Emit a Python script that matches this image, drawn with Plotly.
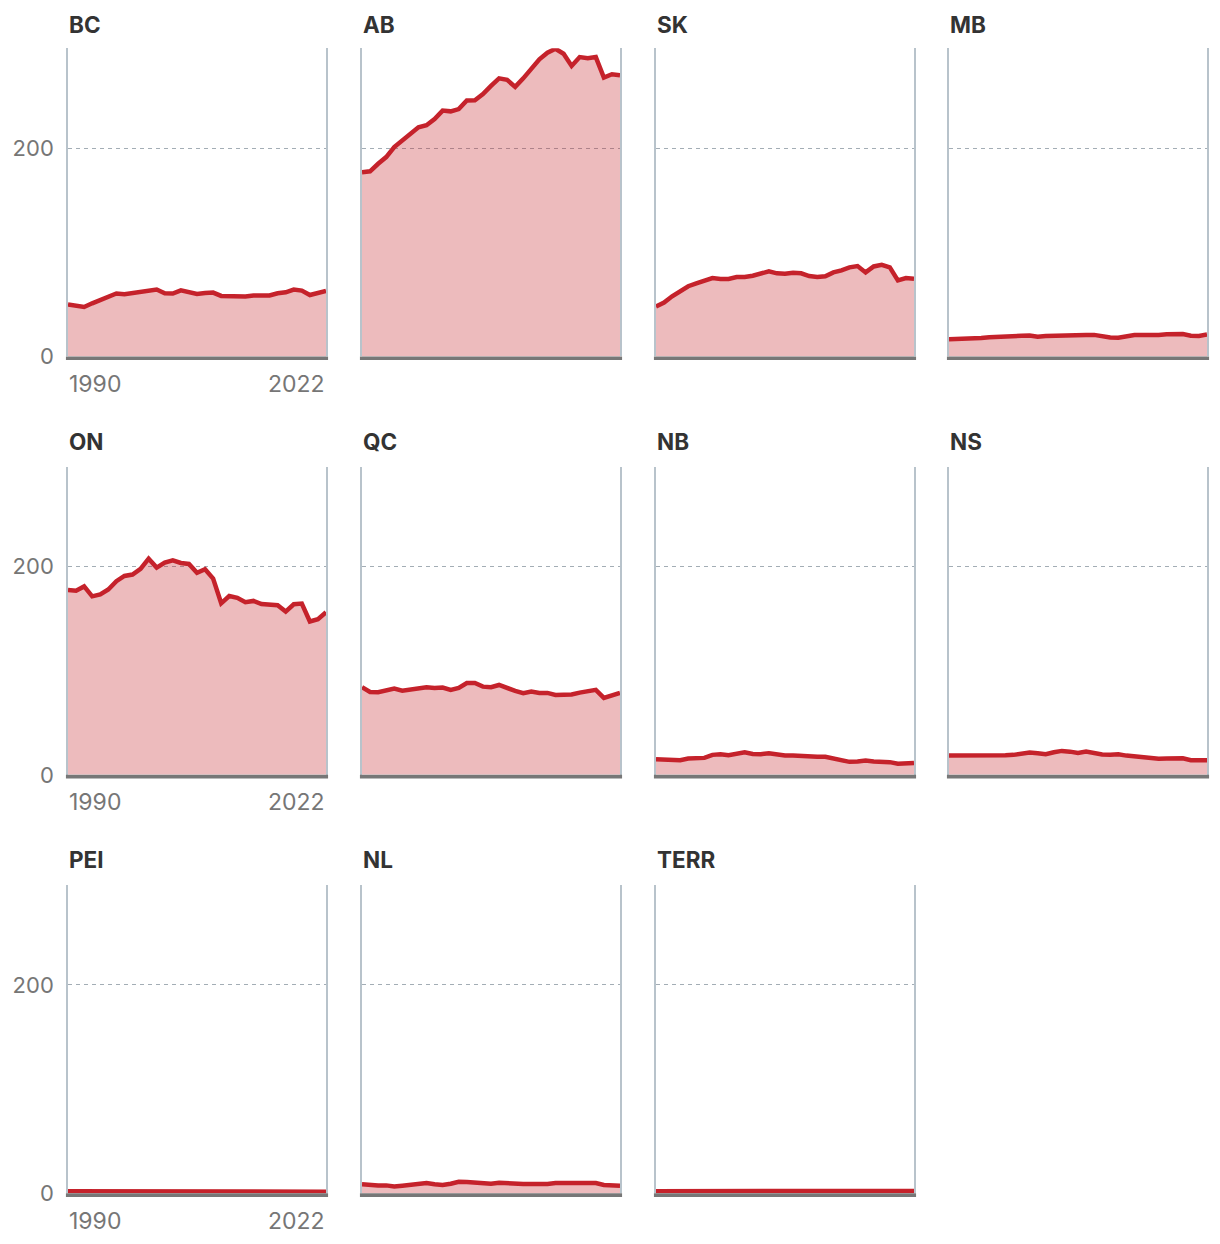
import plotly.graph_objects as go

years = list(range(1990, 2023))

regions = ["BC", "AB", "SK", "MB", "ON", "QC", "NB", "NS", "PEI", "NL", "TERR"]

BC = [50.0, 49.0, 47.5, 51.0, 54.3, 58.0, 60.4, 59.7, 60.7, 62.0, 63.0, 64.2, 60.7, 60.4, 63.5,
      61.6, 60.0, 61.0, 61.3, 58.1, 57.8, 57.2, 57.5, 58.5, 58.5, 58.5, 60.7, 61.6, 64.2, 63.2,
      59.0, 61.0, 63.0]
AB = [176.8, 177.7, 185.0, 191.4, 201.0, 207.3, 214.3, 220.0, 222.0, 228.0, 236.0, 235.3, 237.5,
      245.8, 246.0, 251.8, 259.8, 267.0, 265.5, 258.8, 267.0, 275.7, 285.2, 291.6, 295.4, 290.6,
      278.9, 287.4, 286.2, 287.4, 267.7, 270.9, 270.0]
SK = [48.0, 51.8, 57.8, 62.6, 67.4, 70.2, 72.8, 75.3, 74.4, 74.4, 76.3, 76.3, 77.5, 79.8, 81.7,
      79.8, 79.4, 80.4, 79.8, 77.2, 76.3, 76.9, 80.7, 82.6, 85.5, 86.8, 80.7, 86.4, 88.0, 85.5,
      73.0, 75.3, 74.7]
MB = [16.6, 16.7, 17.0, 17.3, 17.8, 18.4, 19.0, 19.4, 19.6, 19.9, 20.2, 19.0, 19.6, 20.0, 20.1,
      20.2, 20.4, 20.6, 20.7, 19.0, 18.2, 18.0, 19.8, 20.5, 20.6, 20.4, 20.6, 21.2, 21.8, 21.5,
      19.8, 19.6, 21.0]
ON = [177.4, 176.8, 180.9, 171.4, 173.3, 178.0, 186.0, 191.0, 192.3, 197.7, 207.6, 199.0, 203.8,
      206.0, 203.4, 202.5, 194.0, 197.4, 188.5, 164.7, 171.7, 170.0, 165.7, 167.0, 164.0, 163.0,
      162.8, 156.8, 163.8, 164.4, 147.3, 149.5, 156.1]
QC = [84.1, 79.6, 79.3, 80.9, 82.8, 80.9, 82.2, 82.8, 84.1, 83.5, 83.8, 81.6, 83.5, 88.2, 88.2,
      84.7, 84.1, 86.3, 83.1, 80.6, 78.4, 80.0, 78.7, 78.7, 76.8, 76.8, 77.1, 79.0, 80.3, 81.6,
      73.9, 76.8, 78.7]
NB = [15.0, 14.4, 14.7, 14.1, 15.7, 16.3, 16.3, 19.2, 19.8, 18.8, 20.1, 21.7, 20.1, 19.8, 20.8,
      19.2, 18.5, 18.5, 17.9, 17.6, 17.3, 17.3, 15.7, 13.4, 12.5, 12.8, 13.8, 12.8, 12.5, 12.2,
      10.6, 11.2, 11.5]
NS = [18.5, 18.5, 18.8, 18.8, 18.2, 17.9, 17.9, 18.8, 19.2, 20.1, 21.4, 20.8, 19.8, 21.7, 23.0,
      22.3, 21.1, 22.3, 20.4, 19.5, 19.2, 19.8, 18.5, 17.6, 16.3, 16.3, 15.4, 15.7, 16.3, 16.0,
      14.1, 14.1, 14.1]
PEI = [1.9, 1.9, 1.9, 2.0, 2.0, 2.0, 2.1, 2.1, 2.1, 2.1, 2.2, 2.1, 2.1, 2.2, 2.2, 2.1, 2.0,
       2.0, 1.9, 1.9, 1.9, 1.9, 1.8, 1.8, 1.8, 1.7, 1.7, 1.7, 1.7, 1.7, 1.6, 1.6, 1.6]
NL = [8.6, 7.6, 7.6, 7.6, 6.6, 7.3, 7.9, 8.2, 9.8, 8.6, 7.9, 9.2, 11.1, 10.8, 10.1, 9.2, 9.2,
      10.1, 9.5, 8.9, 8.9, 8.9, 8.6, 8.9, 9.8, 9.8, 9.8, 9.8, 9.5, 9.8, 7.9, 7.3, 7.3]
TERR = [2.0, 2.0, 1.9, 1.9, 2.0, 2.1, 2.2, 2.2, 2.2, 2.1, 2.2, 2.5, 2.3, 2.2, 2.3, 2.3, 2.4,
        2.6, 2.4, 2.2, 2.2, 2.2, 2.3, 2.3, 2.2, 2.2, 2.2, 2.2, 2.3, 2.3, 2.1, 2.1, 2.2]

series = [BC, AB, SK, MB, ON, QC, NB, NS, PEI, NL, TERR]

y_ticks = [0, 200]
x_label_years = [1990, 2022]

LINE = "#c5222b"
FILL = "rgba(197,34,43,0.31)"
TICK_COLOR = "#767676"
TITLE_COLOR = "#333333"
FONT = "Inter"

# page body has an 8px margin; vertical layout stretched slightly to match the capture
OFF = 8
SY = 1.0116
W = 1220 - 2 * OFF
H = int(round(1244 * SY)) - 2 * OFF
col_left = [68, 362, 656, 949]
panel_w = 258
row_top = [48 * SY, 466 * SY, 884 * SY]
panel_h = 308 * SY
ymax = 296

fig = go.Figure()
layout = dict(
    width=W, height=H, margin=dict(l=0, r=0, t=0, b=0, pad=0),
    paper_bgcolor="white", plot_bgcolor="white", showlegend=False,
    font=dict(family=FONT, size=22, color=TICK_COLOR),
)
annotations = []
shapes = []

for i, (name, vals) in enumerate(zip(regions, series)):
    r, c = divmod(i, 4)
    n = "" if i == 0 else str(i + 1)
    xa, ya = "x" + n, "y" + n
    x0 = (col_left[c] - OFF) / W
    x1 = (col_left[c] - OFF + panel_w) / W
    y1 = 1 - (row_top[r] - OFF) / H
    y0 = 1 - (row_top[r] - OFF + panel_h) / H
    fig.add_trace(go.Scatter(
        x=years, y=vals, xaxis=xa, yaxis=ya, mode="lines",
        line=dict(color=LINE, width=4.5, shape="linear"),
        fill="tozeroy", fillcolor=FILL, hoverinfo="skip",
    ))
    first_col = (c == 0)
    layout["xaxis" + n] = dict(
        domain=[x0, x1], anchor=ya, range=[1990, 2022],
        showgrid=False, zeroline=False, showline=False, showticklabels=False, ticks="",
        fixedrange=True,
    )
    layout["yaxis" + n] = dict(
        domain=[y0, y1], anchor=xa, range=[0, ymax],
        tickvals=y_ticks, ticktext=[str(t) for t in y_ticks],
        showticklabels=first_col, ticks="outside", ticklen=8, tickcolor="rgba(0,0,0,0)",
        tickfont=dict(family=FONT, size=22, color=TICK_COLOR),
        showgrid=True, gridcolor="#a3adb5", gridwidth=1.3, griddash="4px,4px",
        zeroline=False, showline=True, mirror=True, linecolor="#b8c3cb", linewidth=1.6,
        fixedrange=True,
    )
    # panel title
    annotations.append(dict(
        text=f"<b>{name}</b>", xref=f"{xa} domain", yref=f"{ya} domain",
        x=0, y=1, xanchor="left", yanchor="middle", yshift=(23 if r == 0 else 25) * SY,
        xshift=-1, showarrow=False,
        font=dict(family=FONT, size=22.5, color=TITLE_COLOR),
    ))
    # baseline bar
    shapes.append(dict(
        type="rect", xref=f"{xa} domain", yref=f"{ya} domain",
        x0=-0.008, x1=1.008, ysizemode="pixel", yanchor=0, y0=0, y1=-3.6,
        fillcolor="#777777", line=dict(width=0), layer="above",
    ))
    if first_col:
        for yr, anc in zip(x_label_years, ["left", "right"]):
            annotations.append(dict(
                text=str(yr), xref=xa, yref=f"{ya} domain", x=yr, y=0,
                xanchor=anc, yanchor="middle", yshift=-27 * SY, xshift=(-1 if anc == "left" else 1),
                showarrow=False, font=dict(family=FONT, size=23, color=TICK_COLOR),
            ))

layout["annotations"] = annotations
layout["shapes"] = shapes
fig.update_layout(**layout)
fig.write_html("out.html")
